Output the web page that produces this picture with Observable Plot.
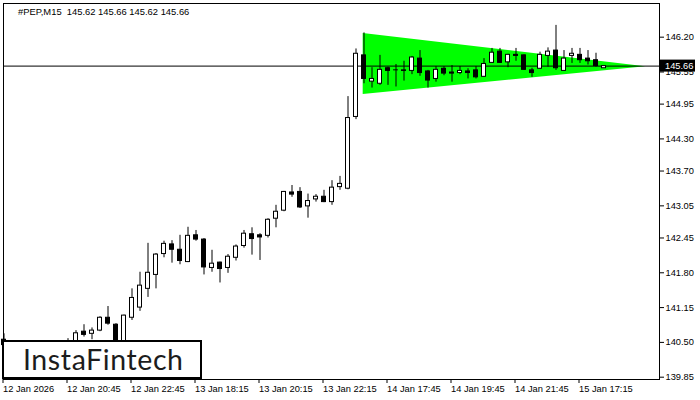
<!DOCTYPE html>
<html>
<head>
<meta charset="utf-8">
<script src="https://cdn.jsdelivr.net/npm/d3@7"></script>
<script src="https://cdn.jsdelivr.net/npm/@observablehq/plot@0.6"></script>
<style>
  html, body { margin: 0; padding: 0; background: white; }
  #wrap { position: relative; width: 700px; height: 400px; overflow: hidden; }
  #title { position: absolute; left: 18px; top: 7px; font-family: "Liberation Sans", Arial, sans-serif; font-size: 9.4px; line-height: 1; white-space: pre; color: black; }
  #logo { position: absolute; left: 2px; top: 340px; width: 200px; height: 39px; box-sizing: border-box; border: 2px solid black; background: white;
          font-family: Lato, "Open Sans", sans-serif; font-size: 28.5px; line-height: 34px; padding-left: 19px; letter-spacing: 0.6px; color: #1c1c1c; }
</style>
</head>
<body>
<div id="wrap">
  <div id="chart"></div>
  <div id="title">#PEP,M15  145.62 145.66 145.62 145.66</div>
  <div id="logo">InstaFintech</div>
</div>
<script>
// M15 candles, index 0 = 12 Jan 18:45 ... index 75 = 15 Jan 18:00
const opens = [140.55,140.45,140.35,140.28,140.20,140.25,140.33,140.30,140.42,140.50,
  140.70,140.66,140.72,140.96,140.83,140.45,140.96,141.15,141.50,141.76,
  142.15,142.33,142.23,142.00,142.50,142.42,141.89,141.99,141.89,142.08,
  142.30,142.52,142.50,142.49,142.81,142.96,143.30,143.31,143.04,143.17,
  143.22,143.12,143.40,143.37,144.71,145.86,145.37,145.33,145.62,145.59,
  145.58,145.57,145.80,145.56,145.42,145.61,145.54,145.53,145.56,145.58,
  145.46,145.72,145.93,145.73,145.87,145.86,145.58,145.61,145.85,145.95,
  145.57,145.85,145.87,145.80,145.77,145.62];
const highs = [140.66,140.50,140.42,140.36,140.30,140.40,140.45,140.48,140.57,140.72,
  140.83,140.77,140.98,141.17,140.85,141.01,141.50,141.81,142.35,142.16,
  142.39,142.40,142.50,142.65,142.59,142.44,142.22,142.00,142.14,142.32,
  142.59,142.64,142.53,142.81,143.06,143.32,143.43,143.39,143.27,143.26,
  143.34,143.52,143.60,145.09,145.98,146.28,145.63,145.86,145.64,145.69,
  145.75,145.84,145.95,145.58,145.65,145.65,145.67,145.65,145.61,145.65,
  145.80,145.99,145.99,145.88,145.99,145.87,145.62,145.92,146.00,146.42,
  145.95,145.99,145.99,145.95,145.90,145.66];
const lows = [140.38,140.30,140.22,140.15,140.05,140.18,140.25,140.26,140.36,140.45,
  140.60,140.55,140.70,140.82,140.40,140.40,140.91,141.08,141.34,141.50,
  142.08,141.98,141.95,141.99,142.39,141.76,141.81,141.61,141.79,142.02,
  142.26,142.13,142.03,142.45,142.64,142.94,143.21,143.00,142.82,143.12,
  143.11,143.06,143.34,143.35,144.66,145.33,145.25,145.30,145.30,145.27,
  145.38,145.50,145.47,145.25,145.36,145.48,145.36,145.50,145.42,145.42,
  145.45,145.71,145.71,145.63,145.75,145.58,145.45,145.60,145.64,145.58,
  145.56,145.71,145.71,145.68,145.64,145.62];
const closes = [140.45,140.35,140.28,140.20,140.25,140.33,140.30,140.42,140.50,140.67,
  140.64,140.72,140.96,140.85,140.45,141.00,141.33,141.56,141.80,142.14,
  142.34,142.23,142.02,142.49,142.42,141.90,141.97,141.87,142.10,142.29,
  142.53,142.43,142.46,142.79,142.94,143.31,143.26,143.02,143.14,143.22,
  143.12,143.39,143.46,144.69,145.89,145.42,145.42,145.59,145.57,145.59,
  145.57,145.82,145.53,145.39,145.59,145.52,145.52,145.57,145.53,145.45,
  145.70,145.91,145.72,145.87,145.85,145.59,145.53,145.87,145.93,145.62,
  145.80,145.89,145.77,145.75,145.66,145.66];

const lastPrice = 145.66;

// Symmetrical triangle pattern corners (bar index, upper, lower)
const patternX = [44.9, 80.2];
const patternUpper = [146.27, 145.65];
const patternLower = [145.13, 145.65];

const yTickValues = [146.20,145.55,144.95,144.30,143.70,143.05,142.45,141.80,141.15,140.50,139.85];
const xTickIdx = [0,8,16,24,32,40,48,56,64,72];
const xTickLabels = ["12 Jan 2026","12 Jan 20:45","12 Jan 22:45","13 Jan 18:15","13 Jan 20:15",
  "13 Jan 22:15","14 Jan 17:45","14 Jan 19:45","14 Jan 21:45","15 Jan 17:15"];

const candles = opens.map((o, i) => ({i, o, h: highs[i], l: lows[i], c: closes[i]}));
const dojis = candles.filter(d => d.o === d.c);
const pattern = patternX.map((x, k) => ({x, top: patternUpper[k], bottom: patternLower[k]}));

const chart = Plot.plot({
  width: 700, height: 400,
  marginLeft: 3, marginRight: 41, marginTop: 3, marginBottom: 21,
  x: {domain: [-0.0625, 81.9375]},
  y: {domain: [139.807, 146.829]},
  style: {fontFamily: "Liberation Sans, Arial, sans-serif", fontSize: "9.3px", background: "white", color: "black"},
  marks: [
    Plot.area(pattern, {x1: "x", y1: "top", y2: "bottom", fill: "#00ff00"}),
    Plot.ruleY([lastPrice], {stroke: "black"}),
    Plot.ruleX(candles, {x: "i", y1: "l", y2: "h", stroke: "black"}),
    Plot.rect(candles, {x1: d => d.i - 0.25, x2: d => d.i + 0.25, y1: "o", y2: "c",
      fill: d => d.c >= d.o ? "white" : "black", stroke: "black"}),
    Plot.ruleY(dojis, {y: "o", x1: d => d.i - 0.3, x2: d => d.i + 0.3, stroke: "black"}),
    Plot.frame({stroke: "black"}),
    Plot.axisY({anchor: "right", ticks: yTickValues, tickFormat: d => d.toFixed(2), tickSize: 4, tickPadding: 2, label: null}),
    Plot.axisX({ticks: xTickIdx, tickFormat: d => xTickLabels[xTickIdx.indexOf(d)], textAnchor: "start",
      tickSize: 4, tickPadding: 2, label: null, dx: -1})
  ]
});

// current price label on the right axis
const yy = chart.scale("y").apply(lastPrice);
const svg = d3.select(chart);
svg.append("rect").attr("x", 660).attr("y", yy - 6).attr("width", 35).attr("height", 12).attr("fill", "black");
svg.append("text").attr("x", 665).attr("y", yy).attr("dy", "0.35em").attr("fill", "white")
  .attr("text-anchor", "start")
  .attr("font-family", "Liberation Sans, Arial, sans-serif").attr("font-size", "9.3px").text(lastPrice.toFixed(2));

document.getElementById("chart").appendChild(chart);
</script>
</body>
</html>
